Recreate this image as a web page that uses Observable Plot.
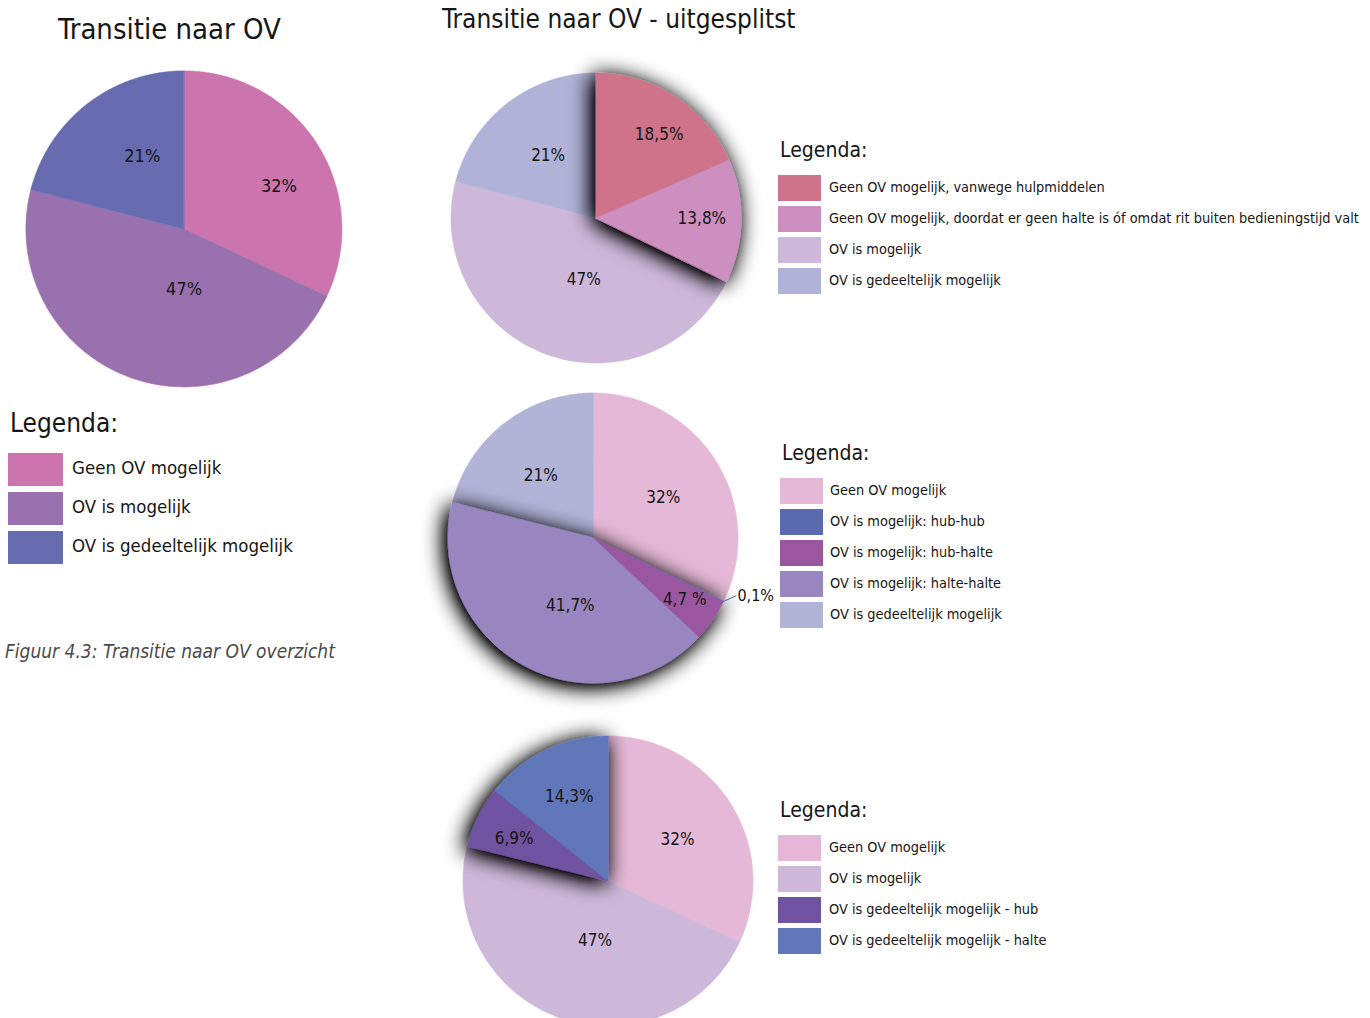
<!DOCTYPE html>
<html>
<head>
<meta charset="utf-8">
<script src="https://cdn.jsdelivr.net/npm/d3@7"></script>
<script src="https://cdn.jsdelivr.net/npm/@observablehq/plot@0.6"></script>
<style>
  html, body { margin: 0; padding: 0; background: #fff; }
  body { width: 1370px; height: 1018px; position: relative; overflow: hidden;
         font-family: "Liberation Sans Narrow", "DejaVu Sans Condensed", "Roboto", sans-serif; color: #161616; }
  .abs { position: absolute; white-space: nowrap; }
  .sw { position: absolute; }
  .caption { font-style: italic; font-size: 19px; color: #4a4a4a; font-weight: 300; line-height: 1; }
</style>
</head>
<body>
<script>
const FONT = getComputedStyle(document.body).fontFamily;

// Overview: transition to public transport
const overviewNames  = ["Geen OV mogelijk", "OV is mogelijk", "OV is gedeeltelijk mogelijk"];
const overviewValues = [32, 47, 21];
const overviewLabels = ["32%", "47%", "21%"];
const overviewColors = ["#CB74AD", "#9A71AF", "#676BB0"];

// Split 1: reasons why no public transport is possible
const reasonNames  = ["Geen OV mogelijk, vanwege hulpmiddelen",
                      "Geen OV mogelijk, doordat er geen halte is óf omdat rit buiten bedieningstijd valt",
                      "OV is mogelijk", "OV is gedeeltelijk mogelijk"];
const reasonValues = [18.5, 13.8, 47, 21];
const reasonLabels = ["18,5%", "13,8%", "47%", "21%"];
const reasonColors = ["#CE7389", "#CC8FC0", "#CDB8DA", "#B0B3D7"];

// Split 2: type of possible public transport trip
const tripNames  = ["Geen OV mogelijk", "OV is mogelijk: hub-hub", "OV is mogelijk: hub-halte",
                    "OV is mogelijk: halte-halte", "OV is gedeeltelijk mogelijk"];
const tripValues = [32, 0.1, 4.7, 41.7, 21];
const tripLabels = ["32%", "0,1%", "4,7 %", "41,7%", "21%"];
const tripColors = ["#E5B8D7", "#5A6AB0", "#9B56A0", "#9786BF", "#B1B3D7"];

// Split 3: partially possible trips
const partNames  = ["Geen OV mogelijk", "OV is mogelijk",
                    "OV is gedeeltelijk mogelijk - hub", "OV is gedeeltelijk mogelijk - halte"];
const partValues = [32, 47, 6.9, 14.3];
const partLabels = ["32%", "47%", "6,9%", "14,3%"];
const partColors = ["#E5B8D7", "#CDB8DA", "#6F53A0", "#6177BA"];

function addText(text, left, top, css) {
  const el = document.createElement("div");
  el.className = "abs";
  el.textContent = text;
  el.style.left = left + "px";
  el.style.top = top + "px";
  Object.assign(el.style, css || {});
  document.body.appendChild(el);
  return el;
}

// Draws one pie with Plot: slices start at 12 o'clock and run clockwise.
function drawPie(cfg) {
  const {id, names, values, labels, colors, cx, cy, r, shadowed, place, labelSize, callout} = cfg;
  const k = 1.3;
  const total = d3.sum(values);
  let acc = 0;
  const slices = values.map((v, i) => {
    const a0 = acc / total * 2 * Math.PI; acc += v;
    const a1 = acc / total * 2 * Math.PI;
    return {i, name: names[i], label: labels[i], a0, a1, shadow: shadowed.includes(i)};
  });
  const outline = s => {
    const n = Math.max(2, Math.ceil((s.a1 - s.a0) / (Math.PI / 360)));
    const pts = [{name: s.name, x: 0, y: 0}];
    for (let j = 0; j <= n; j++) {
      const a = s.a0 + (s.a1 - s.a0) * j / n;
      pts.push({name: s.name, x: Math.sin(a), y: Math.cos(a)});
    }
    return pts;
  };
  const plain = slices.filter(s => !s.shadow).flatMap(outline);
  const raised = slices.filter(s => s.shadow).flatMap(outline);

  const textRows = slices.filter(s => place[s.i]).map(s => {
    const [rf, turn] = place[s.i];
    const a = (s.a0 + s.a1) / 2 + turn * Math.PI / 180;
    return {label: s.label, x: rf * Math.sin(a), y: rf * Math.cos(a)};
  });

  const marks = [
    Plot.line(plain, {x: "x", y: "y", z: "name", fill: "name", stroke: "name", strokeWidth: 0.6, curve: "linear-closed"}),
    Plot.line(raised, {x: "x", y: "y", z: "name", fill: "name", stroke: "name", strokeWidth: 0.6, curve: "linear-closed", ariaDescription: "raised"}),
    Plot.text(textRows, {x: "x", y: "y", text: "label", fontSize: labelSize, fill: "#141414", fontFamily: FONT})
  ];
  if (callout) {
    const s = slices[callout.index];
    const a = (s.a0 + s.a1) / 2;
    const link = [{x1: Math.sin(a), y1: Math.cos(a), x2: Math.sin(a) + callout.dx, y2: Math.cos(a) + callout.dy, label: s.label}];
    marks.push(Plot.link(link, {x1: "x1", y1: "y1", x2: "x2", y2: "y2", stroke: "#4D6CB2", strokeWidth: 1}));
    marks.push(Plot.text(link, {x: "x2", y: "y2", text: "label", textAnchor: "start", dx: 1, fontSize: labelSize - 1, fill: "#141414", fontFamily: FONT}));
  }

  const size = 2 * k * r;
  const svg = Plot.plot({
    width: size, height: size, margin: 0,
    x: {domain: [-k, k], axis: null},
    y: {domain: [-k, k], axis: null},
    color: {domain: names, range: colors},
    style: {background: "transparent", overflow: "visible", fontFamily: FONT},
    marks
  });

  // broad, soft dark shadow around the highlighted slices
  const defs = d3.select(svg).insert("defs", ":first-child");
  const f = defs.append("filter").attr("id", "shadow-" + id)
    .attr("filterUnits", "userSpaceOnUse")
    .attr("x", 0).attr("y", 0).attr("width", size).attr("height", size);
  f.append("feGaussianBlur").attr("in", "SourceAlpha").attr("stdDeviation", 11).attr("result", "blur");
  f.append("feOffset").attr("in", "blur").attr("dx", -3).attr("dy", 3).attr("result", "off");
  f.append("feComponentTransfer").attr("in", "off").attr("result", "dark")
    .append("feFuncA").attr("type", "linear").attr("slope", 1.45);
  const merge = f.append("feMerge");
  merge.append("feMergeNode").attr("in", "dark");
  merge.append("feMergeNode").attr("in", "SourceGraphic");
  const g = svg.querySelector('[aria-description="raised"]');
  if (g) g.setAttribute("filter", `url(#shadow-${id})`);

  svg.style.position = "absolute";
  svg.style.left = (cx - k * r) + "px";
  svg.style.top = (cy - k * r) + "px";
  svg.style.maxWidth = "none";
  document.body.appendChild(svg);
}

function drawLegend({names, colors, left, top, titleSize, swW, swH, step, textX, textSize, titleGap}) {
  addText("Legenda:", left, top, {fontSize: titleSize + "px", lineHeight: "1"});
  names.forEach((n, i) => {
    const y = top + titleGap + i * step;
    const sw = document.createElement("div");
    sw.className = "sw";
    Object.assign(sw.style, {left: (left - 2) + "px", top: y + "px", width: swW + "px", height: swH + "px", background: colors[i]});
    document.body.appendChild(sw);
    addText(n, textX, y + swH / 2 - textSize * 0.58, {fontSize: textSize + "px", lineHeight: "1"});
  });
}

// Titles
addText("Transitie naar OV", 58, 15, {fontSize: "29px", lineHeight: "1"});
addText("Transitie naar OV - uitgesplitst", 442, 6, {fontSize: "26px", lineHeight: "1"});

// Pies
drawPie({id: "a", names: overviewNames, values: overviewValues, labels: overviewLabels, colors: overviewColors,
  cx: 183.5, cy: 228, r: 158, shadowed: [], labelSize: 18,
  place: [[0.66, 8], [0.38, -20], [0.53, 8]]});

drawPie({id: "b", names: reasonNames, values: reasonValues, labels: reasonLabels, colors: reasonColors,
  cx: 595.5, cy: 217.5, r: 145, shadowed: [0, 1], labelSize: 17,
  place: [[0.72, 4], [0.73, -1], [0.43, -9], [0.54, 0]]});

drawPie({id: "c", names: tripNames, values: tripValues, labels: tripLabels, colors: tripColors,
  cx: 592.5, cy: 537, r: 145, shadowed: [1, 2, 3], labelSize: 17,
  place: [[0.56, 2], null, [0.76, -1], [0.49, -10], [0.56, -2]],
  callout: {index: 1, dx: 0.09, dy: 0.04}});

drawPie({id: "d", names: partNames, values: partValues, labels: partLabels, colors: partColors,
  cx: 607.5, cy: 880, r: 145, shadowed: [2, 3], labelSize: 17,
  place: [[0.56, 1.5], [0.42, -7], [0.71, -2], [0.64, 1]]});

// Legends
drawLegend({names: overviewNames, colors: overviewColors, left: 10, top: 410, titleSize: 26,
  swW: 55, swH: 33, step: 39, textX: 72, textSize: 18.5, titleGap: 43});
drawLegend({names: reasonNames, colors: reasonColors, left: 780, top: 140, titleSize: 21,
  swW: 43, swH: 26, step: 31, textX: 829, textSize: 14.4, titleGap: 35});
drawLegend({names: tripNames, colors: tripColors, left: 782, top: 443, titleSize: 21,
  swW: 43, swH: 26, step: 31, textX: 830, textSize: 14.4, titleGap: 35});
drawLegend({names: partNames, colors: partColors, left: 780, top: 800, titleSize: 21,
  swW: 43, swH: 26, step: 31, textX: 829, textSize: 14.4, titleGap: 35});

// Caption
const cap = addText("Figuur 4.3: Transitie naar OV overzicht", 5, 642, {});
cap.className = "abs caption";
</script>
</body>
</html>
